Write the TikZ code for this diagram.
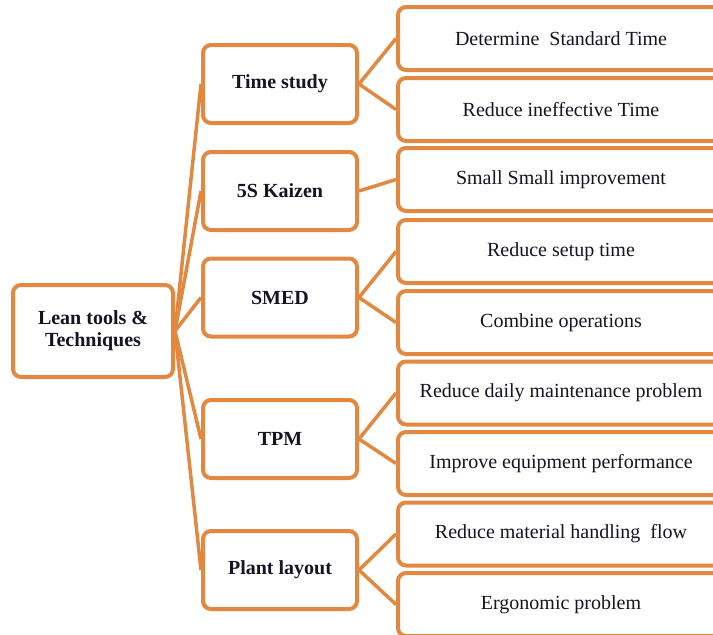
\documentclass[tikz,border=0pt]{standalone}
\usepackage{fontspec}
\setmainfont{Liberation Serif}
\definecolor{lorange}{RGB}{226,136,64}
\definecolor{ltext}{RGB}{20,20,35}
\begin{document}
\begin{tikzpicture}[x=1pt,y=-1pt,
  box/.style={draw=lorange,line width=4pt,rounded corners=8pt,fill=white,
    inner sep=0pt,text=ltext,font=\fontsize{20}{22}\selectfont},
  rootbox/.style={box,minimum width=160pt,minimum height=92pt,align=center,
    font=\fontsize{20}{22}\selectfont\bfseries},
  midbox/.style={box,minimum width=154pt,minimum height=78pt,
    font=\fontsize{20}{22}\selectfont\bfseries},
  leafbox/.style={box,minimum width=326pt,minimum height=63pt},
  link/.style={draw=lorange,line width=3.5pt}]
\useasboundingbox (0,0) rectangle (713,635);
\clip (0,0) rectangle (713,635);
\node[rootbox] (root) at (93,331) {Lean tools \&\\Techniques};
\node[midbox] (ts) at (280,84) {Time study};
\node[midbox] (kz) at (280,191) {5S Kaizen};
\node[midbox] (smed) at (280,297.5) {SMED};
\node[midbox] (tpm) at (280,439) {TPM};
\node[midbox] (pl) at (280,570) {Plant layout};
\node[leafbox] (l1) at (561,38.5) {Determine\ \ Standard Time};
\node[leafbox] (l2) at (561,109.5) {Reduce ineffective Time};
\node[leafbox] (l3) at (561,179.5) {Small Small improvement};
\node[leafbox] (l4) at (561,251.5) {Reduce setup time};
\node[leafbox] (l5) at (561,322.5) {Combine operations};
\node[leafbox] (l6) at (561,393) {Reduce daily maintenance problem};
\node[leafbox] (l7) at (561,463.5) {Improve equipment performance};
\node[leafbox] (l8) at (561,534) {Reduce material handling\ \ flow};
\node[leafbox] (l9) at (561,604.5) {Ergonomic problem};
\foreach \m in {ts,kz,smed,tpm,pl}
  \draw[link] (root.east) -- (\m.west);
\draw[link] (ts.east) -- (l1.west);
\draw[link] (ts.east) -- (l2.west);
\draw[link] (kz.east) -- (l3.west);
\draw[link] (smed.east) -- (l4.west);
\draw[link] (smed.east) -- (l5.west);
\draw[link] (tpm.east) -- (l6.west);
\draw[link] (tpm.east) -- (l7.west);
\draw[link] (pl.east) -- (l8.west);
\draw[link] (pl.east) -- (l9.west);
\end{tikzpicture}
\end{document}
